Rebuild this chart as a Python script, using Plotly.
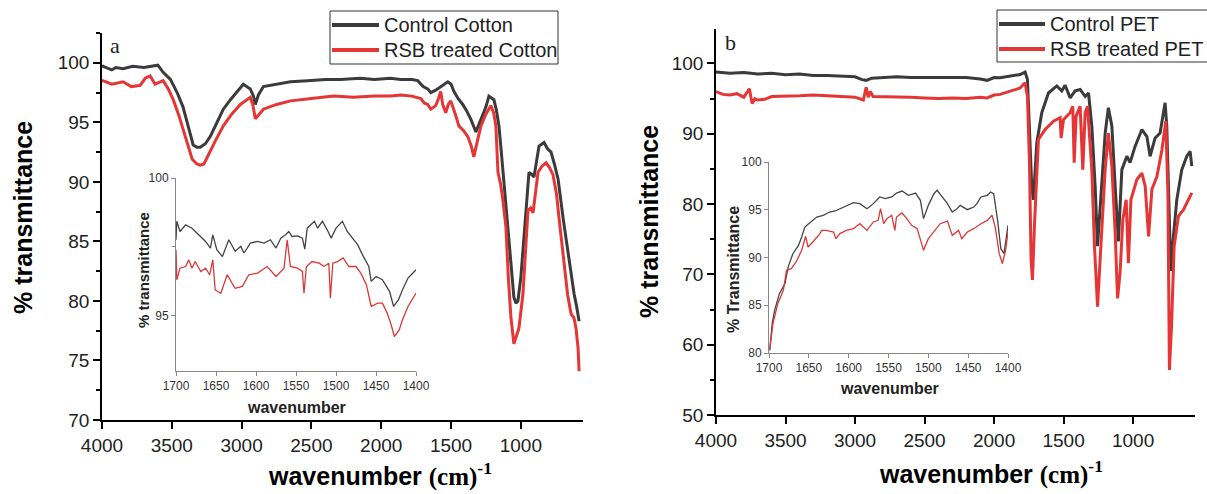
import plotly.graph_objects as go

# ---- data ----
# panel a, cotton (main)
cotton_ctrl_wn = [4000, 3993, 3930, 3900, 3849, 3780, 3700, 3634, 3600, 3562, 3510, 3462, 3420, 3390, 3347,
                  3320, 3296, 3260, 3225, 3180, 3131, 3080, 3031, 2988, 2938, 2915, 2902, 2880, 2844, 2744,
                  2650, 2528, 2400, 2291, 2150, 2050, 1933, 1861, 1780, 1739, 1700, 1667, 1645, 1610, 1574,
                  1523, 1500, 1480, 1450, 1416, 1390, 1358, 1322, 1300, 1286, 1250, 1229, 1210, 1193, 1175,
                  1157, 1140, 1129, 1120, 1107, 1090, 1071, 1050, 1035, 1021, 1000, 980, 963, 942, 920,
                  906, 870, 834, 810, 784, 760, 733, 698, 662, 640, 619, 600, 583]
cotton_ctrl_t = [99.8, 99.7, 99.4, 99.6, 99.5, 99.7, 99.6, 99.7, 99.8, 99.2, 98.6, 97.5, 96.3, 95.0, 93.1,
                 92.9, 92.9, 93.2, 93.8, 94.9, 96.1, 96.9, 97.6, 98.2, 97.8, 97.2, 96.5, 97.3, 98.0, 98.2,
                 98.4, 98.5, 98.6, 98.6, 98.7, 98.6, 98.7, 98.6, 98.6, 98.5, 98.0, 97.8, 97.5, 97.7, 98.0,
                 98.4, 98.2, 97.6, 97.0, 96.5, 96.0, 95.25, 94.2, 94.8, 95.3, 96.3, 97.2, 97.0, 96.9, 96.0,
                 94.7, 92.5, 91.0, 89.5, 88.2, 86.0, 83.4, 80.3, 79.8, 80.0, 82.0, 85.0, 87.6, 90.8, 90.6,
                 90.4, 93.0, 93.3, 92.8, 92.5, 91.5, 90.2, 87.0, 84.0, 82.3, 80.6, 79.5, 78.3]
cotton_rsb_wn = [4000, 3993, 3930, 3849, 3790, 3727, 3690, 3655, 3620, 3562, 3525, 3490, 3450, 3419, 3380,
                 3354, 3320, 3296, 3270, 3246, 3190, 3131, 3070, 3009, 2960, 2938, 2920, 2902, 2880, 2844,
                 2750, 2650, 2500, 2342, 2200, 2050, 1933, 1861, 1780, 1717, 1690, 1667, 1645, 1610, 1590,
                 1574, 1560, 1538, 1520, 1502, 1470, 1444, 1410, 1380, 1355, 1337, 1310, 1286, 1250, 1215,
                 1195, 1179, 1164, 1145, 1129, 1107, 1090, 1071, 1050, 1035, 1014, 985, 965, 949, 930,
                 913, 877, 850, 820, 795, 770, 745, 727, 691, 665, 640, 620, 605, 590, 583]
cotton_rsb_t = [98.5, 98.5, 98.2, 98.4, 98.0, 98.1, 98.7, 98.9, 98.2, 98.5, 97.8, 96.9, 95.6, 94.4, 92.9,
                91.9, 91.5, 91.4, 91.5, 92.1, 93.4, 94.7, 95.7, 96.5, 96.9, 97.1, 96.5, 95.3, 95.6, 96.1,
                96.5, 96.8, 97.0, 97.2, 97.1, 97.2, 97.2, 97.3, 97.2, 97.0, 96.6, 96.5, 96.1, 96.4, 97.0,
                97.6, 96.5, 95.8, 96.5, 96.8, 95.7, 94.7, 94.3, 93.8, 93.0, 92.1, 93.5, 94.7, 95.7, 96.4,
                95.8, 94.7, 90.8, 89.8, 88.5, 86.2, 82.0, 78.6, 76.4, 77.0, 77.7, 80.6, 85.0, 87.6, 87.8,
                87.4, 90.8, 91.3, 91.6, 91.2, 90.6, 89.0, 87.0, 83.4, 80.5, 78.9, 78.6, 77.7, 76.0, 74.1]

# panel a inset (1700-1400)
ins_a_ctrl_wn = [1700, 1699, 1695, 1688, 1680, 1672, 1663, 1657, 1654, 1649, 1642, 1634, 1626, 1619, 1615,
                 1607, 1598, 1590, 1582, 1575, 1569, 1563, 1559, 1555, 1548, 1542, 1539, 1536, 1527, 1523,
                 1517, 1511, 1506, 1500, 1492, 1486, 1479, 1473, 1467, 1459, 1456, 1450, 1442, 1433, 1428,
                 1422, 1417, 1410, 1406, 1400]
ins_a_ctrl_t = [97.76, 98.43, 98.06, 98.3, 98.18, 97.94, 97.7, 97.46, 97.94, 97.4, 97.15, 97.76, 97.34, 97.52,
                97.28, 97.64, 97.7, 97.64, 97.76, 97.46, 97.82, 97.94, 98.06, 97.88, 97.9, 97.82, 97.42, 98.18,
                98.43, 98.18, 98.43, 98.12, 97.82, 98.18, 98.43, 98.06, 97.82, 97.58, 97.22, 96.79, 96.25,
                96.43, 96.31, 95.88, 95.34, 95.58, 95.94, 96.37, 96.49, 96.67]
ins_a_rsb_wn = [1700, 1699, 1695, 1688, 1684, 1680, 1676, 1669, 1663, 1658, 1654, 1651, 1644, 1636, 1630,
                1626, 1617, 1609, 1598, 1586, 1575, 1565, 1561, 1557, 1548, 1542, 1540, 1537, 1530, 1521,
                1515, 1509, 1507, 1504, 1498, 1491, 1484, 1475, 1469, 1462, 1456, 1448, 1442, 1436, 1431,
                1427, 1421, 1417, 1410, 1404, 1400]
ins_a_rsb_t = [97.4, 96.31, 96.73, 96.79, 97.03, 96.73, 96.97, 96.61, 96.73, 96.49, 97.03, 95.94, 95.82, 96.49,
               96.19, 96.0, 96.07, 96.49, 96.55, 96.79, 96.43, 96.73, 97.76, 96.79, 96.73, 96.61, 95.82, 96.79,
               96.97, 96.91, 96.79, 96.91, 95.64, 96.91, 96.97, 97.1, 96.79, 96.79, 96.55, 96.13, 95.34, 95.46,
               95.46, 95.1, 94.67, 94.25, 94.49, 94.85, 95.34, 95.64, 95.82]

# panel b, PET (main)
pet_ctrl_wn = [4000, 3900, 3800, 3700, 3600, 3500, 3400, 3300, 3200, 3100, 3000, 2950, 2920, 2880, 2800,
               2700, 2600, 2500, 2400, 2300, 2200, 2100, 2050, 2000, 1957, 1813, 1777, 1760, 1748, 1729,
               1717, 1693, 1657, 1609, 1549, 1513, 1489, 1453, 1417, 1381, 1345, 1321, 1297, 1273, 1256,
               1237, 1201, 1178, 1153, 1129, 1106, 1081, 1045, 1022, 986, 937, 901, 878, 842, 806,
               770, 758, 739, 729, 710, 686, 650, 614, 590, 578]
pet_ctrl_t = [98.8, 98.6, 98.7, 98.5, 98.6, 98.4, 98.5, 98.3, 98.3, 98.2, 98.1, 97.7, 97.6, 97.9, 98.0,
              98.1, 98.0, 98.0, 98.0, 97.9, 98.0, 97.8, 97.6, 98.0, 97.96, 98.43, 98.76, 97.7, 91.1, 82.5,
              80.6, 88.7, 93.0, 95.8, 96.8, 96.1, 96.9, 95.1, 96.1, 96.3, 95.3, 95.8, 91.1, 82.5, 74.0,
              79.7, 90.1, 93.7, 91.1, 82.5, 74.7, 84.9, 86.8, 85.9, 88.2, 90.6, 89.6, 86.8, 89.4, 90.1,
              94.4, 91.1, 77.8, 70.5, 75.4, 80.6, 84.9, 86.8, 87.5, 85.4]
pet_rsb_wn = [4000, 3950, 3900, 3850, 3800, 3760, 3740, 3720, 3700, 3650, 3600, 3500, 3400, 3300, 3200,
              3100, 3000, 2940, 2920, 2905, 2890, 2870, 2800, 2700, 2600, 2500, 2400, 2300, 2200, 2100,
              2050, 2000, 1957, 1813, 1777, 1760, 1746, 1734, 1724, 1710, 1681, 1633, 1573, 1525, 1518,
              1501, 1453, 1434, 1424, 1410, 1381, 1362, 1345, 1328, 1297, 1278, 1256, 1232, 1201, 1178,
              1153, 1129, 1112, 1094, 1074, 1050, 1034, 1016, 973, 937, 913, 889, 865, 829, 793,
              765, 750, 739, 724, 705, 674, 638, 602, 578]
pet_rsb_t = [96.0, 95.6, 95.5, 95.7, 95.2, 96.4, 94.3, 95.0, 94.8, 94.9, 95.3, 95.3, 95.4, 95.5, 95.4,
             95.3, 95.2, 94.8, 96.6, 95.2, 96.0, 95.3, 95.3, 95.2, 95.2, 95.1, 95.0, 95.1, 95.0, 95.2,
             95.1, 95.5, 95.6, 96.5, 97.25, 95.3, 86.3, 72.1, 69.2, 76.8, 89.2, 90.6, 91.8, 92.3, 89.4,
             92.0, 93.0, 93.9, 85.9, 92.5, 93.9, 84.9, 93.0, 93.9, 84.9, 74.0, 65.4, 74.0, 84.9, 90.1,
             85.4, 75.9, 66.6, 70.2, 77.8, 80.6, 71.6, 80.6, 83.5, 84.4, 82.5, 75.4, 82.1, 83.9, 87.7,
             91.8, 81.6, 56.4, 62.6, 74.0, 78.3, 79.2, 80.6, 81.6]

# panel b inset (1700-1400)
ins_b_ctrl_wn = [1699, 1696, 1693, 1687, 1680, 1676, 1670, 1663, 1659, 1655, 1651, 1647, 1640, 1632, 1624,
                 1617, 1611, 1603, 1594, 1586, 1577, 1569, 1561, 1554, 1546, 1540, 1533, 1525, 1516, 1510,
                 1506, 1500, 1493, 1489, 1483, 1476, 1470, 1464, 1460, 1451, 1443, 1439, 1434, 1426, 1422,
                 1418, 1413, 1409, 1405, 1402, 1400]
ins_b_ctrl_t = [80.28, 83.07, 84.47, 86.21, 87.26, 89.0, 90.4, 91.27, 92.15, 93.19, 93.47, 93.72, 94.24, 94.42,
                94.76, 94.87, 95.11, 95.46, 95.74, 95.64, 95.11, 95.64, 96.34, 96.16, 96.34, 96.75, 96.96, 96.51,
                96.75, 95.99, 94.07, 95.46, 96.68, 97.03, 96.34, 95.64, 94.76, 95.11, 95.46, 95.01, 95.29,
                95.64, 96.34, 96.51, 96.86, 96.68, 93.89, 90.92, 90.4, 92.15, 93.37]
ins_b_rsb_wn = [1699, 1695, 1689, 1682, 1678, 1672, 1666, 1659, 1654, 1651, 1645, 1636, 1634, 1628, 1619,
                1616, 1611, 1603, 1594, 1586, 1577, 1569, 1563, 1560, 1556, 1552, 1546, 1542, 1540, 1533,
                1527, 1521, 1514, 1510, 1506, 1500, 1493, 1485, 1476, 1470, 1462, 1458, 1451, 1443, 1434,
                1426, 1420, 1416, 1411, 1407, 1403, 1400]
ins_b_rsb_t = [80.45, 83.07, 85.17, 86.56, 88.66, 88.83, 89.53, 90.75, 92.22, 91.1, 91.62, 92.5, 92.84, 92.84,
               92.67, 91.97, 92.5, 92.84, 93.02, 93.54, 92.84, 93.72, 93.89, 95.11, 93.54, 94.07, 94.42, 92.84,
               94.24, 94.66, 94.07, 93.37, 93.02, 91.97, 90.75, 91.97, 92.67, 93.54, 93.82, 92.32, 92.84,
               91.97, 92.67, 93.02, 93.54, 93.89, 94.42, 93.19, 90.4, 89.35, 90.75, 92.67]

series_a = ['Control Cotton', 'RSB treated Cotton']
series_b = ['Control PET', 'RSB treated PET']

BLACK = '#3b3b3b'
RED = '#e53535'
W, H = 1207, 494
SANS = 'Liberation Sans, Arial, sans-serif'
SERIF = 'Liberation Serif, Times New Roman, serif'


# page pixel -> paper coordinate
def px(x):
    return x / W


def py(y):
    return 1 - y / H


fig = go.Figure()

# main panels
fig.add_trace(go.Scatter(x=cotton_ctrl_wn, y=cotton_ctrl_t, mode='lines', name=series_a[0],
                         line=dict(color=BLACK, width=3), xaxis='x', yaxis='y'))
fig.add_trace(go.Scatter(x=cotton_rsb_wn, y=cotton_rsb_t, mode='lines', name=series_a[1],
                         line=dict(color=RED, width=3), xaxis='x', yaxis='y'))
fig.add_trace(go.Scatter(x=pet_ctrl_wn, y=pet_ctrl_t, mode='lines', name=series_b[0],
                         line=dict(color=BLACK, width=3), xaxis='x3', yaxis='y3'))
fig.add_trace(go.Scatter(x=pet_rsb_wn, y=pet_rsb_t, mode='lines', name=series_b[1],
                         line=dict(color=RED, width=3), xaxis='x3', yaxis='y3'))

# insets
fig.add_trace(go.Scatter(x=ins_a_ctrl_wn, y=ins_a_ctrl_t, mode='lines',
                         line=dict(color='#444444', width=1.3), xaxis='x2', yaxis='y2'))
fig.add_trace(go.Scatter(x=ins_a_rsb_wn, y=ins_a_rsb_t, mode='lines',
                         line=dict(color='#d83a3a', width=1.3), xaxis='x2', yaxis='y2'))
fig.add_trace(go.Scatter(x=ins_b_ctrl_wn, y=ins_b_ctrl_t, mode='lines',
                         line=dict(color='#444444', width=1.3), xaxis='x4', yaxis='y4'))
fig.add_trace(go.Scatter(x=ins_b_rsb_wn, y=ins_b_rsb_t, mode='lines',
                         line=dict(color='#d83a3a', width=1.3), xaxis='x4', yaxis='y4'))

main_ax = dict(showline=True, linecolor='black', linewidth=1.5, ticks='outside', ticklen=7,
               tickwidth=1.5, tickcolor='black', showgrid=False, zeroline=False, automargin=False,
               tickfont=dict(family=SANS, size=19, color='#222222'))
ins_ax = dict(showline=True, linecolor='#888888', linewidth=1, ticks='outside', ticklen=4,
              tickwidth=1, tickcolor='#888888', showgrid=False, zeroline=False, automargin=False,
              tickfont=dict(family=SANS, size=12, color='#333333'))

fig.update_layout(
    width=W, height=H, autosize=False, showlegend=False,
    margin=dict(l=0, r=0, t=0, b=0, autoexpand=False),
    plot_bgcolor='white', paper_bgcolor='white',
    xaxis=dict(main_ax, domain=[px(102), px(583)], range=[4000, 555], dtick=500, tick0=1000, anchor='y'),
    yaxis=dict(main_ax, domain=[py(420), py(33)], range=[70, 102.5], dtick=5, anchor='x',
               minor=dict(ticks='outside', ticklen=4, dtick=2.5, tickcolor='black')),
    xaxis2=dict(ins_ax, domain=[px(176), px(416)], range=[1700, 1400], dtick=50, tick0=1400, anchor='y2'),
    yaxis2=dict(ins_ax, domain=[py(371), py(178)], range=[93, 100], dtick=5, tick0=95, anchor='x2',
                minor=dict(ticks='outside', ticklen=3, dtick=2.5, tickcolor='#888888')),
    xaxis3=dict(main_ax, domain=[px(716), px(1195)], range=[4000, 555], dtick=500, tick0=1000, anchor='y3'),
    yaxis3=dict(main_ax, domain=[py(415), py(29)], range=[50, 104.9], dtick=10, anchor='x3',
                minor=dict(ticks='outside', ticklen=4, dtick=5, tickcolor='black')),
    xaxis4=dict(ins_ax, domain=[px(769), px(1008)], range=[1700, 1400], dtick=50, tick0=1400, anchor='y4'),
    yaxis4=dict(ins_ax, domain=[py(353), py(162)], range=[80, 100], dtick=5, anchor='x4'),
)

# legend boxes drawn by hand (box, line samples, labels)
shapes = []
annos = []
for (bx0, bx1, by0, by1, lx0, lx1, tx, rows, names) in [
        (330, 558, 11, 64, 332, 379, 382, (25, 50), series_a),
        (997, 1212, 10, 62, 999, 1045, 1048, (24, 49), series_b)]:
    shapes.append(dict(type='rect', xref='paper', yref='paper', x0=px(bx0), x1=px(bx1), y0=py(by1), y1=py(by0),
                       line=dict(color='#333333', width=1), fillcolor='white', layer='above'))
    for yy, col, name in zip(rows, [BLACK, RED], names):
        shapes.append(dict(type='line', xref='paper', yref='paper', x0=px(lx0), x1=px(lx1), y0=py(yy), y1=py(yy),
                           line=dict(color=col, width=4), layer='above'))
        annos.append(dict(x=px(tx), y=py(yy), text=name, xanchor='left',
                          font=dict(family=SANS, size=20, color='#222222')))

xtitle = "<b>wavenumber <span style='font-family:Liberation Serif, Times New Roman, serif'>(cm)<sup>-1</sup></span></b>"
annos += [
    dict(x=px(115), y=py(45), text='a', font=dict(family=SERIF, size=22, color='#222222')),
    dict(x=px(730), y=py(42), text='b', font=dict(family=SERIF, size=22, color='#222222')),
    dict(x=px(23), y=py(218), text='<b>% transmittance</b>', textangle=-90,
         font=dict(family=SANS, size=25, color='black')),
    dict(x=px(649), y=py(222), text='<b>% transmittance</b>', textangle=-90,
         font=dict(family=SANS, size=25, color='black')),
    dict(x=px(380), y=py(474), text=xtitle, font=dict(family=SANS, size=25, color='black')),
    dict(x=px(991), y=py(472), text=xtitle, font=dict(family=SANS, size=25, color='black')),
    dict(x=px(296), y=py(407), text='<b>wavenumber</b>', font=dict(family=SANS, size=16, color='#222222')),
    dict(x=px(889), y=py(388), text='<b>wavenumber</b>', font=dict(family=SANS, size=16, color='#222222')),
    dict(x=px(143), y=py(270), text='<b>% transmittance</b>', textangle=-90,
         font=dict(family=SANS, size=15, color='#222222')),
    dict(x=px(733), y=py(270), text='<b>% Transmittance</b>', textangle=-90,
         font=dict(family=SANS, size=16, color='#222222')),
]
for a in annos:
    a.update(xref='paper', yref='paper', showarrow=False, yanchor='middle')
    a.setdefault('xanchor', 'center')
fig.update_layout(annotations=annos, shapes=shapes)

# drop the default 8px body margin so the figure fills the window
fig.write_html("out.html", config={'displayModeBar': False},
               post_script="document.body.style.margin='0px';")
